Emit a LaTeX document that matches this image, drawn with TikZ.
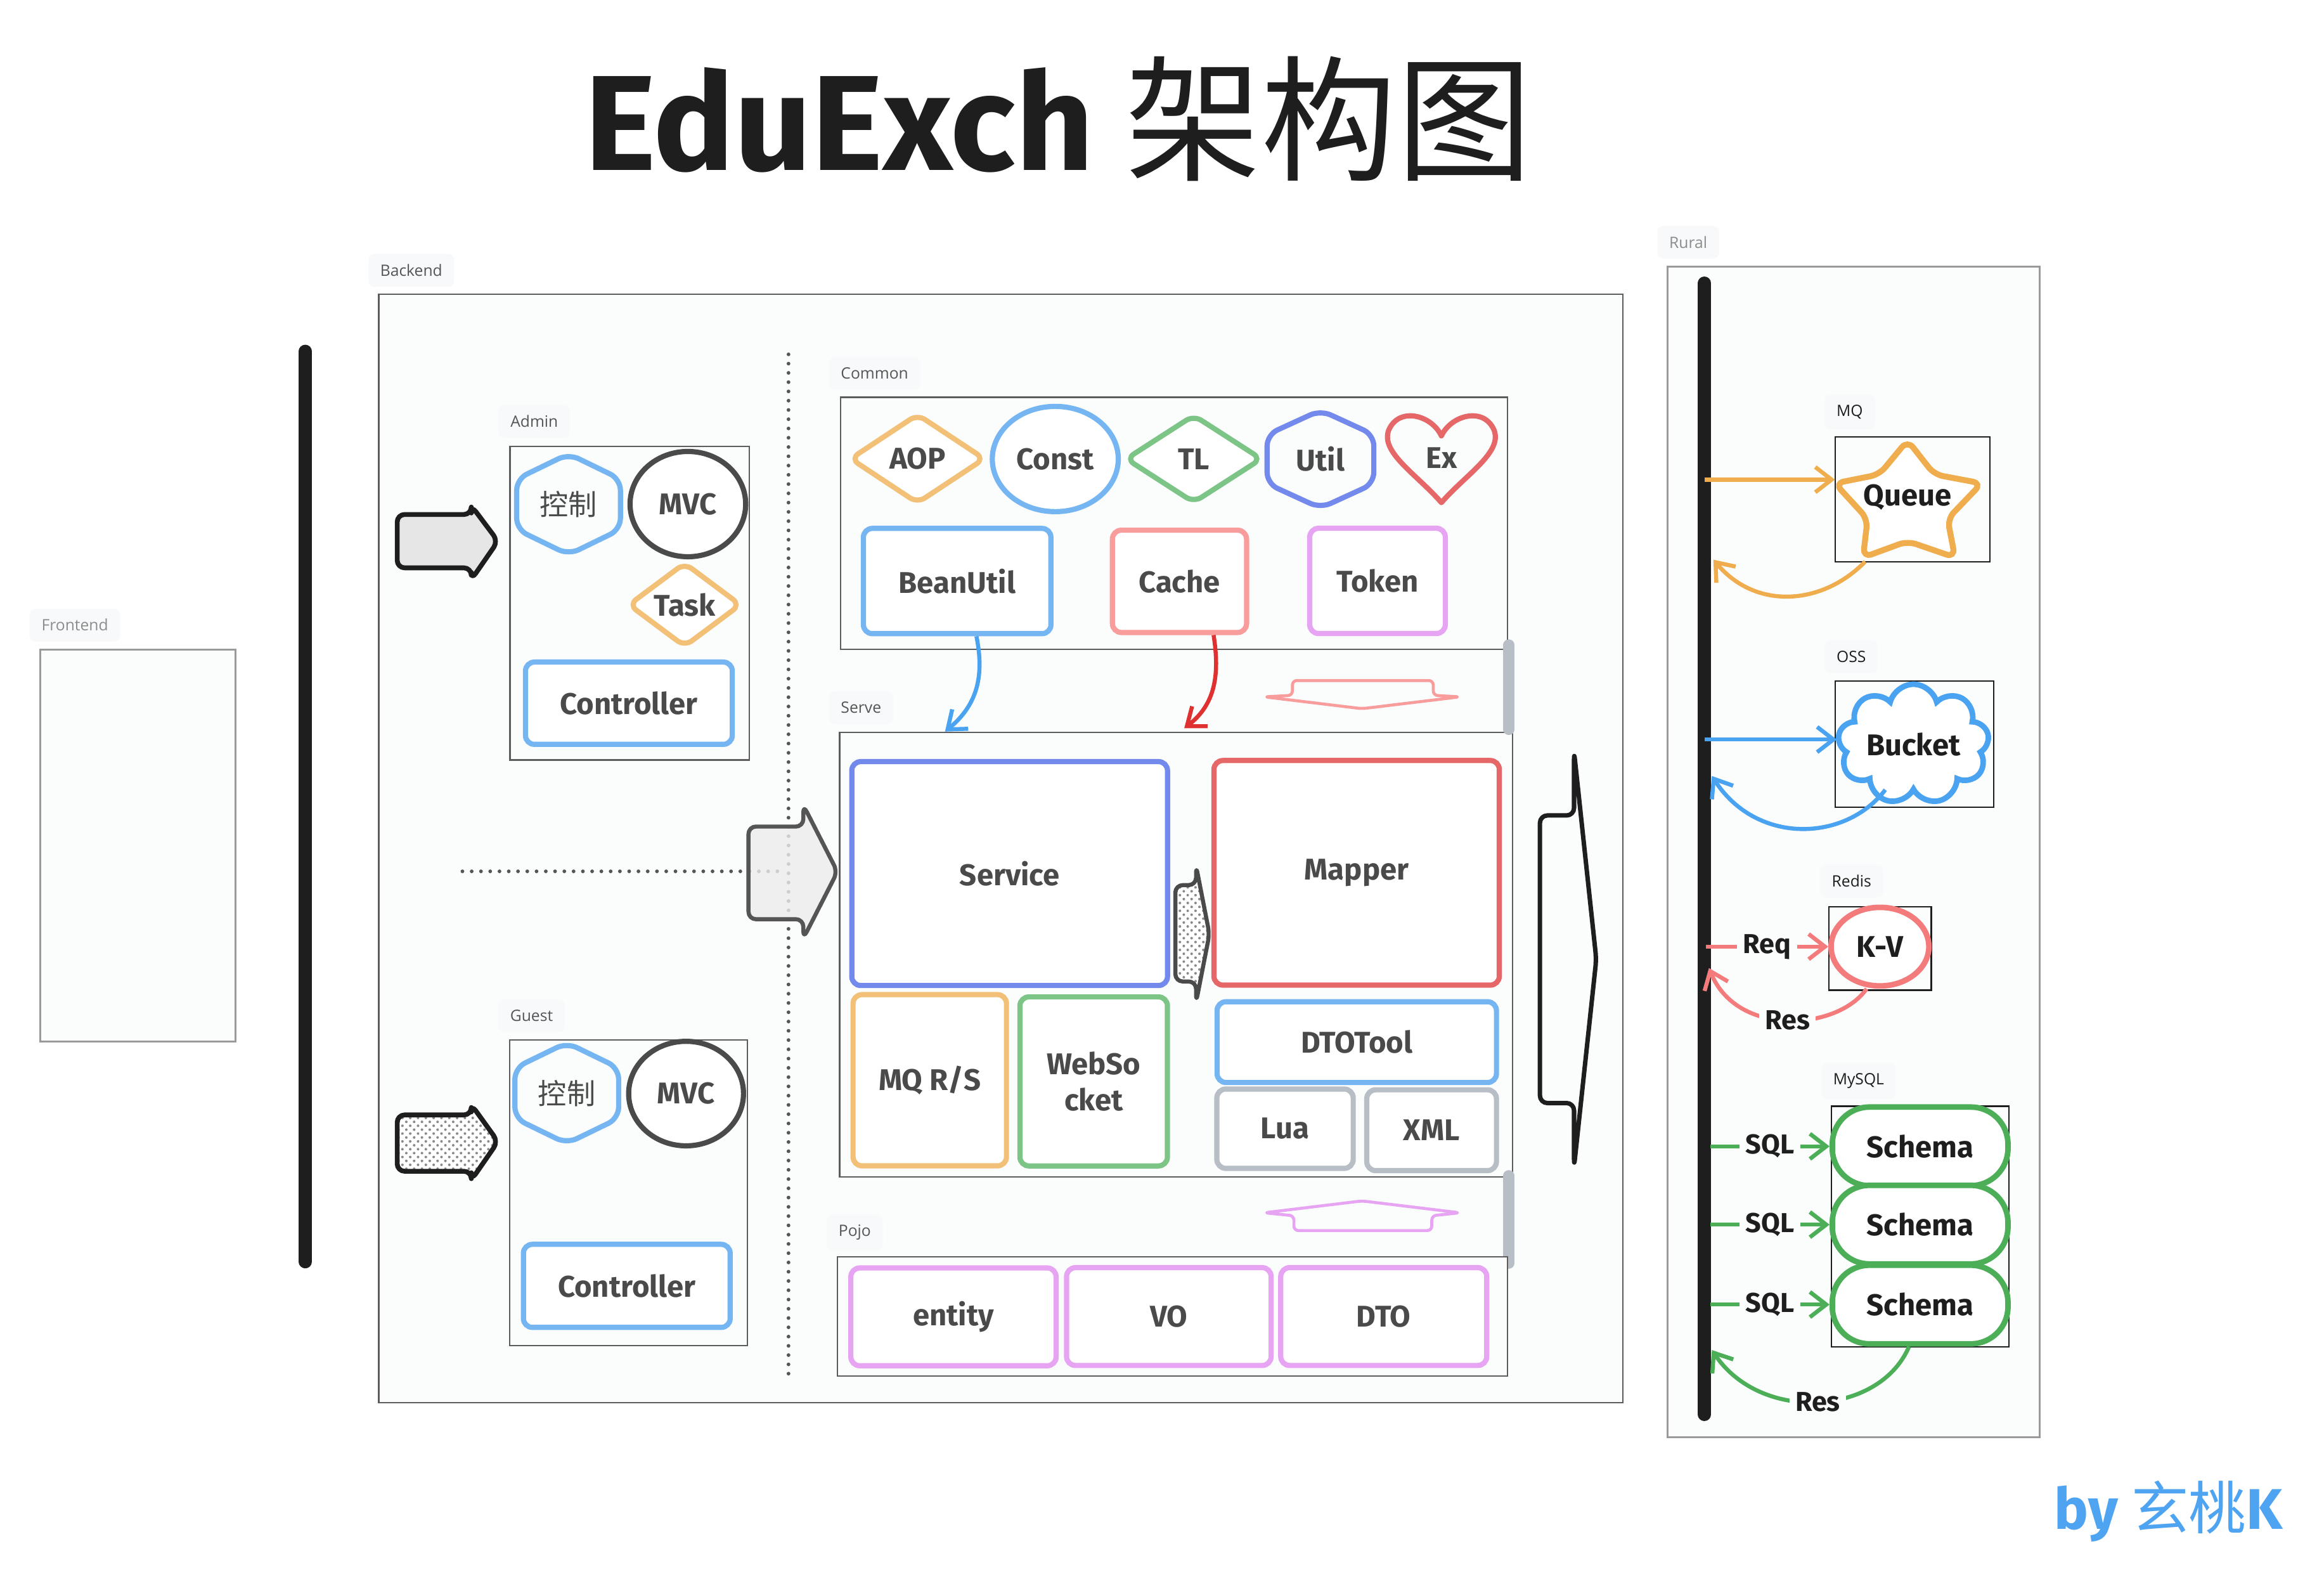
\documentclass[tikz,border=0pt]{standalone}
\usepackage{fontspec}
\setmainfont{Fira Sans}
\newfontfamily\cjk{Noto Sans CJK SC}
\newfontfamily\tagfont{Open Sans}
\usetikzlibrary{shapes.geometric,shapes.symbols,arrows.meta,patterns}

\definecolor{inkGray}{HTML}{4A4A4A}
\definecolor{inkBlack}{HTML}{1E1E1E}
\definecolor{groupLine}{HTML}{5C5C5C}
\definecolor{lightLine}{HTML}{9A9A9A}
\definecolor{groupFill}{HTML}{FBFDFD}
\definecolor{tagBg}{HTML}{F8F9FA}
\definecolor{tagText}{HTML}{555555}
\definecolor{tagLight}{HTML}{8C8C8C}
\definecolor{hatchGray}{HTML}{8A8A8A}
\definecolor{skyBlue}{HTML}{74B5F2}
\definecolor{sand}{HTML}{F2C177}
\definecolor{leaf}{HTML}{7DC487}
\definecolor{indigo}{HTML}{7389EC}
\definecolor{coral}{HTML}{E66767}
\definecolor{salmon}{HTML}{F89C9C}
\definecolor{violet}{HTML}{E6A4F2}
\definecolor{steel}{HTML}{B8BEC6}
\definecolor{linkBlue}{HTML}{4AA3F0}
\definecolor{linkRed}{HTML}{E03131}
\definecolor{mqOrange}{HTML}{F0AD4E}
\definecolor{kvRed}{HTML}{F47B7B}
\definecolor{sqlGreen}{HTML}{4CAF58}
\definecolor{arrowFill}{HTML}{E6E6E6}
\definecolor{midFill}{HTML}{ECECEC}
\definecolor{byBlue}{HTML}{4FA4F2}

\tikzset{
  groupBox/.style={draw=groupLine, fill=groupFill, line width=0.2mm},
  outerGroup/.style={draw=lightLine, fill=groupFill, line width=0.25mm},
  innerGroup/.style={draw=inkBlack, fill=groupFill, line width=0.2mm},
  groupTag/.style={anchor=west, fill=tagBg, rounded corners=0.8mm,
    inner xsep=1.6mm, inner ysep=1.4mm, text=tagText,
    font=\tagfont\fontsize{6}{7}\selectfont},
  unitBox/.style={draw, fill=white, line width=0.7mm, rounded corners=1.2mm,
    inner sep=0, align=center, text=inkGray,
    font=\bfseries\fontsize{11.5}{14}\selectfont},
  hexLbl/.style={text=inkGray, font=\cjk\fontsize{11}{13}\selectfont},
  hexLine/.style={line width=0.7mm, rounded corners=1.5mm},
  rightItem/.style={draw, fill=white, line width=0.75mm, inner sep=0,
    text=inkBlack, font=\bfseries\fontsize{11.5}{14}\selectfont},
  rightLbl/.style={text=inkBlack, font=\bfseries\fontsize{11.5}{14}\selectfont},
  edgeLbl/.style={fill=groupFill, inner sep=0.8mm, text=inkBlack,
    font=\bfseries\fontsize{10.5}{12}\selectfont},
  flowLink/.style={line width=0.55mm, -{Straight Barb[length=2.2mm,width=3.4mm]}},
  blackBar/.style={line width=1.8mm, draw=inkBlack, line cap=round},
  greyBar/.style={line width=1.5mm, draw=steel, line cap=round},
  dotLine/.style={line width=0.5mm, draw=tagText, line cap=round,
    dash pattern=on 0pt off 1.25mm},
  fatArrow/.style={line width=0.65mm, draw=inkBlack, rounded corners=1mm,
    line join=round},
  hatched/.style={preaction={fill=white}, pattern=crosshatch dots,
    pattern color=hatchGray},
  thinArrow/.style={line width=0.4mm, rounded corners=0.6mm, line join=round}
}

\begin{document}
\begin{tikzpicture}[x=0.2mm, y=-0.2mm]

        \useasboundingbox (0,0) rectangle (1568,1073);
        \fill[white] (0,0) rectangle (1568,1073);

        % Titulo
        \node[
            anchor=base,
            text=inkBlack,
            font=\bfseries\fontsize{52}{60}\selectfont
        ] (title) at (714,115) {EduExch {\cjk\mdseries 架构图}};

        % =====================================================
        % FRONTEND
        % =====================================================

        \draw[outerGroup] (27.3,438.3) rectangle (158.9,702.4);
        \node[groupTag, text=tagLight] (frontendTag) at (19.7,421.6) {Frontend};

        % Barra izquierda
        \draw[blackBar] (206,237) -- (206,851);

        % =====================================================
        % BACKEND
        % =====================================================

        \draw[groupBox] (255.6,198.5) rectangle (1095,946);
        \node[groupTag] (backendTag) at (248.2,182.3) {Backend};

        % Separador punteado
        \draw[dotLine] (532,239) -- (532,930);
        \draw[dotLine] (312,587.7) -- (525,587.7);

        % Admin
        \draw[groupBox] (344.1,301.2) rectangle (505.5,512.6);
        \node[groupTag] (adminTag) at (336.1,284.2) {Admin};

        \coordinate (adminHex) at (383.6,340.1);
        \draw[hexLine, draw=skyBlue] (adminHex) ++(0,-34) -- ++(35,17) -- ++(0,34)
            -- ++(-35,17) -- ++(-35,-17) -- ++(0,-34) -- cycle;
        \node[hexLbl] (adminCtl) at (adminHex) {控制};
        \node[unitBox, ellipse, draw=inkGray, minimum width=15.6mm,
            minimum height=14.2mm] (adminMvc) at (464.1,340) {MVC};
        \node[unitBox, diamond, draw=sand, minimum width=15.3mm,
            minimum height=10.5mm] (adminTask) at (461.9,407.9) {Task};
        \node[unitBox, draw=skyBlue, minimum width=27.9mm,
            minimum height=11.1mm] (adminCtrl) at (424.3,474.3) {Controller};

        % Guest
        \draw[groupBox] (343.9,701.3) rectangle (504.3,907.7);
        \node[groupTag] (guestTag) at (335.9,685.1) {Guest};

        \coordinate (guestHex) at (382.4,737.3);
        \draw[hexLine, draw=skyBlue] (guestHex) ++(0,-34) -- ++(35,17) -- ++(0,34)
            -- ++(-35,17) -- ++(-35,-17) -- ++(0,-34) -- cycle;
        \node[hexLbl] (guestCtl) at (guestHex) {控制};
        \node[unitBox, ellipse, draw=inkGray, minimum width=15.5mm,
            minimum height=14.1mm] (guestMvc) at (462.9,737.6) {MVC};
        \node[unitBox, draw=skyBlue, minimum width=27.9mm,
            minimum height=11.2mm] (guestCtrl) at (422.9,867.3) {Controller};

        % Flechas de entrada
        \draw[fatArrow, fill=arrowFill] (268,347) -- (318,347) -- (318,341)
            -- (336,365) -- (318,391) -- (318,383) -- (268,383) -- cycle;
        \draw[fatArrow, hatched] (268,752) -- (318,752) -- (318,745)
            -- (336,770) -- (318,796) -- (318,790) -- (268,790) -- cycle;
        \draw[fatArrow, draw=tagText, fill=midFill, fill opacity=0.8,
            line width=0.55mm] (505,557.5) -- (542,557.5) -- (542,543)
            -- (565,588) -- (542,633) -- (542,620) -- (505,620) -- cycle;

        % =====================================================
        % COMMON
        % =====================================================

        \draw[groupBox] (567.1,268) rectangle (1017.2,438);
        \node[groupTag] (commonTag) at (559,251.8) {Common};

        \node[unitBox, diamond, draw=sand, minimum width=18.3mm,
            minimum height=12.2mm] (aop) at (619,309.4) {AOP};
        \node[unitBox, ellipse, draw=skyBlue, minimum width=17mm,
            minimum height=14.2mm] (const) at (712,309.6) {Const};
        \node[unitBox, diamond, draw=leaf, minimum width=18.5mm,
            minimum height=12mm] (tl) at (805.4,309.5) {TL};

        \coordinate (utilHex) at (890.9,309.7);
        \draw[hexLine, draw=indigo] (utilHex) ++(0,-33) -- ++(36,16.5) -- ++(0,33)
            -- ++(-36,16.5) -- ++(-36,-16.5) -- ++(0,-33) -- cycle;
        \node[unitBox, draw=none, fill=none] (util) at (utilHex) {Util};

        \draw[line width=0.7mm, draw=coral, line join=round]
            (972.5,294) .. controls (966,280) and (944,274) .. (937,290)
            .. controls (931,305) and (956,320) .. (972.5,339)
            .. controls (989,320) and (1014,305) .. (1008,290)
            .. controls (1001,274) and (979,280) .. (972.5,294) -- cycle;
        \node[unitBox, draw=none, fill=none] (ex) at (972.5,308.7) {Ex};

        \node[unitBox, draw=skyBlue, minimum width=25.3mm,
            minimum height=14.2mm] (beanUtil) at (645.8,391.9) {BeanUtil};
        \node[unitBox, draw=salmon, minimum width=18.1mm,
            minimum height=13.8mm] (cache) at (795.8,392.1) {Cache};
        \node[unitBox, draw=violet, minimum width=18.3mm,
            minimum height=14.2mm] (token) at (929.4,391.8) {Token};

        % Flecha hacia abajo
        \draw[thinArrow, draw=salmon] (872,459) -- (967,459) -- (967,469)
            -- (985,470) -- (919,478) -- (853,470) -- (872,469) -- cycle;

        % =====================================================
        % SERVE
        % =====================================================

        \draw[groupBox] (566.5,494) rectangle (1020.5,793.9);
        \node[groupTag] (serveTag) at (559,477.3) {Serve};

        \node[unitBox, draw=indigo, minimum width=42.6mm,
            minimum height=30.2mm] (service) at (681.2,589.2) {Service};
        \node[unitBox, draw=coral, minimum width=38.5mm,
            minimum height=30.3mm] (mapper) at (915.3,588.7) {Mapper};
        \node[unitBox, draw=sand, minimum width=20.7mm,
            minimum height=23.1mm] (mqRs) at (627.3,728.6) {MQ R/S};
        \node[unitBox, draw=leaf, minimum width=19.9mm,
            minimum height=22.8mm] (webSocket) at (737.9,729.4) {WebSo\\cket};
        \node[unitBox, draw=skyBlue, minimum width=37.7mm,
            minimum height=10.9mm] (dtoTool) at (915.4,702.9) {DTOTool};
        \node[unitBox, draw=steel, minimum width=18.4mm,
            minimum height=10.7mm] (lua) at (867,761.3) {Lua};
        \node[unitBox, draw=steel, minimum width=17.5mm,
            minimum height=10.9mm] (xml) at (965.9,762.3) {XML};

        % Flecha Service -> Mapper
        \draw[fatArrow, draw=inkGray, line width=0.55mm, hatched] (793,597)
            -- (807,597) -- (807,584) -- (816,630) -- (807,676) -- (807,662)
            -- (793,662) -- cycle;

        % Conexiones Common -> Serve
        \coordinate (serveInA) at (637.6,493.4);
        \coordinate (serveInB) at (799,491.2);
        \draw[flowLink, draw=linkBlue] ([xshift=2.6mm]beanUtil.south)
            .. controls (664,455) and (660,475) .. (serveInA);
        \draw[flowLink, draw=linkRed] ([xshift=4.6mm]cache.south)
            .. controls (823,455) and (820,475) .. (serveInB);

        % Flecha hacia arriba
        \draw[thinArrow, draw=violet] (919,810) -- (985,818) -- (966,820)
            -- (966,830) -- (873,830) -- (873,820) -- (853,818) -- cycle;

        % Barras grises
        \draw[greyBar] (1018,435) -- (1018,492);
        \draw[greyBar] (1018,793) -- (1018,852);

        % =====================================================
        % POJO
        % =====================================================

        \draw[groupBox] (565,847.6) rectangle (1017.2,928.1);
        \node[groupTag] (pojoTag) at (557.5,831.4) {Pojo};

        \node[unitBox, draw=violet, minimum width=27.7mm,
            minimum height=13.2mm] (entity) at (643.3,888.2) {entity};
        \node[unitBox, draw=violet, minimum width=27.6mm,
            minimum height=13.2mm] (vo) at (788.6,888) {VO};
        \node[unitBox, draw=violet, minimum width=27.8mm,
            minimum height=13.2mm] (dto) at (933.6,888) {DTO};

        % Flecha lateral
        \draw[fatArrow, line width=0.6mm] (1062,507) -- (1062,550) -- (1039,550)
            -- (1039,744) -- (1062,744) -- (1062,787) -- (1077,647) -- cycle;

        % =====================================================
        % RURAL
        % =====================================================

        \draw[outerGroup] (1124.9,179.7) rectangle (1376.2,969.2);
        \node[groupTag, text=tagLight] (ruralTag) at (1117.9,163.3) {Rural};

        \draw[blackBar] (1150,191) -- (1150,954);

        % MQ
        \draw[innerGroup] (1238.3,294.8) rectangle (1342.6,378.8);
        \node[groupTag, text=inkBlack] (mqTag) at (1230.8,277.9) {MQ};
        \draw[line width=0.8mm, draw=mqOrange, rounded corners=1.2mm, fill=white]
            (1287,297) -- (1305,320) -- (1337,326) -- (1314,350) -- (1319,376)
            -- (1287,365) -- (1257,376) -- (1260,350) -- (1238,326) -- (1268,320)
            -- cycle;
        \node[rightLbl] (queue) at (1287,335.5) {Queue};

        \coordinate (barMq) at (1150,323.5);
        \coordinate (mqIn) at (1238,323.5);
        \coordinate (mqOut) at (1258.4,378.8);
        \coordinate (barMqBack) at (1156,377.5);
        \draw[flowLink, draw=mqOrange] (barMq) -- (mqIn);
        \draw[flowLink, draw=mqOrange] (mqOut)
            .. controls (1230,408) and (1185,412) .. (barMqBack);

        % OSS
        \draw[innerGroup] (1238.3,459.3) rectangle (1345.2,544.4);
        \node[groupTag, text=inkBlack] (ossTag) at (1230.8,443) {OSS};
        \node[rightItem, cloud, cloud puffs=9, cloud ignores aspect,
            draw=linkBlue, minimum width=20.4mm, minimum height=16.2mm]
            (bucket) at (1291,502) {Bucket};

        \coordinate (barOss) at (1150,498.8);
        \coordinate (barOssBack) at (1155,523.4);
        \draw[flowLink, draw=linkBlue] (barOss) -- (barOss -| bucket.west);
        \draw[flowLink, draw=linkBlue] ([xshift=-3.8mm,yshift=0.6mm]bucket.south)
            .. controls (1245,568) and (1185,570) .. (barOssBack);

        % Redis
        \draw[innerGroup] (1234,611.5) rectangle (1303,667.8);
        \node[groupTag, text=inkBlack] (redisTag) at (1227.6,594.2) {Redis};
        \node[rightItem, ellipse, draw=kvRed, minimum width=13.2mm,
            minimum height=10.6mm] (kv) at (1268.4,638.5) {K-V};

        \coordinate (barReq) at (1151,638.5);
        \coordinate (barRes) at (1153,652.9);
        \draw[flowLink, draw=kvRed] (barReq) -- (kv.west)
            node[edgeLbl, pos=0.5] {Req};
        \draw[flowLink, draw=kvRed] ([xshift=-1.8mm]kv.south)
            .. controls (1240,695) and (1172,700) .. (barRes)
            node[edgeLbl, pos=0.5] {Res};

        % MySQL
        \draw[innerGroup] (1235.7,746.1) rectangle (1355.4,908.5);
        \node[groupTag, text=inkBlack] (mysqlTag) at (1228.5,729.2) {MySQL};
        \node[rightItem, draw=sqlGreen, rounded corners=5mm, minimum width=23.7mm,
            minimum height=10.6mm] (schemaA) at (1295.5,773.2) {Schema};
        \node[rightItem, draw=sqlGreen, rounded corners=5mm, minimum width=23.7mm,
            minimum height=10.6mm] (schemaB) at (1295.5,826) {Schema};
        \node[rightItem, draw=sqlGreen, rounded corners=5mm, minimum width=23.7mm,
            minimum height=10.6mm] (schemaC) at (1295.5,879.9) {Schema};

        \coordinate (barSqlA) at (1154,773.2);
        \coordinate (barSqlB) at (1154,826);
        \coordinate (barSqlC) at (1154,879.9);
        \coordinate (barSqlRes) at (1155,910.6);
        \draw[flowLink, draw=sqlGreen] (barSqlA) -- (schemaA.west)
            node[edgeLbl, pos=0.5] {SQL};
        \draw[flowLink, draw=sqlGreen] (barSqlB) -- (schemaB.west)
            node[edgeLbl, pos=0.5] {SQL};
        \draw[flowLink, draw=sqlGreen] (barSqlC) -- (schemaC.west)
            node[edgeLbl, pos=0.5] {SQL};
        \draw[flowLink, draw=sqlGreen] ([xshift=-1.5mm]schemaC.south)
            .. controls (1268,955) and (1188,960) .. (barSqlRes)
            node[edgeLbl, pos=0.5] {Res};

        % Firma
        \node[
            anchor=base,
            text=byBlue,
            font=\bfseries\fontsize{22}{26}\selectfont
        ] (byline) at (1463,1031.5) {by {\cjk\mdseries 玄桃}K};

\end{tikzpicture}
\end{document}
